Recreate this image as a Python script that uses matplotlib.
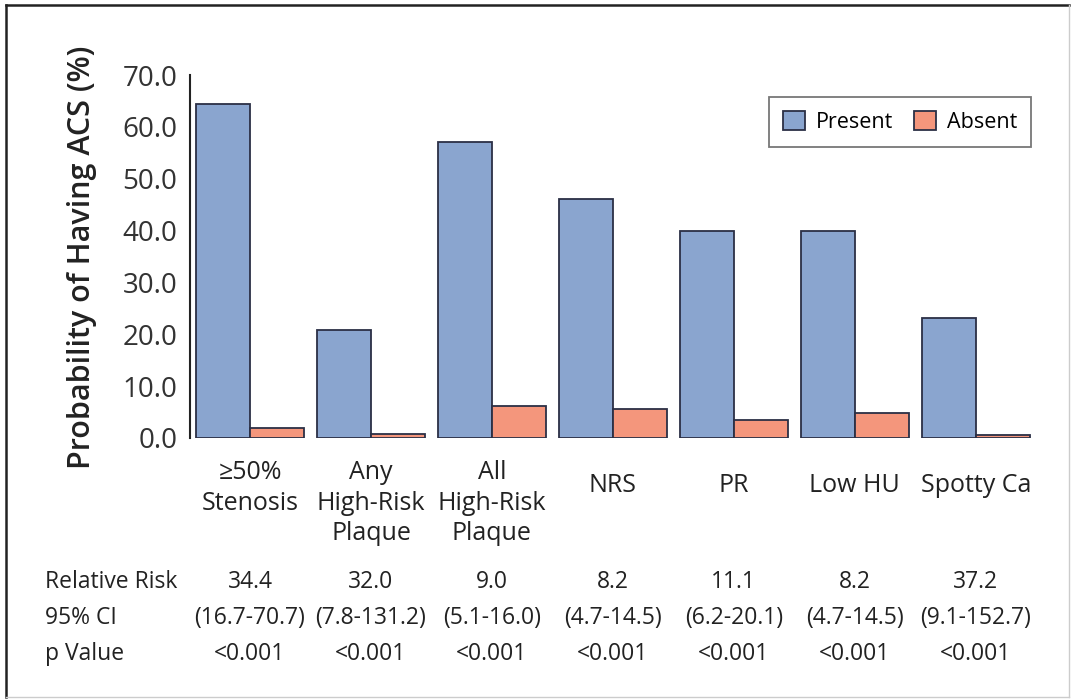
import matplotlib
matplotlib.use("Agg")
import matplotlib.pyplot as plt
import matplotlib.transforms as mtransforms
from matplotlib.lines import Line2D
import numpy as np

plt.rcParams['font.family'] = ['Open Sans', 'DejaVu Sans']

categories = ["\u226550%\nStenosis", "Any\nHigh-Risk\nPlaque", "All\nHigh-Risk\nPlaque",
              "NRS", "PR", "Low HU", "Spotty Ca"]
present = [64.5, 20.8, 57.1, 46.0, 39.9, 39.9, 23.1]
absent = [2.0, 0.8, 6.2, 5.6, 3.5, 4.8, 0.5]
yticks = [0, 10, 20, 30, 40, 50, 60, 70]
relative_risk = ["34.4", "32.0", "9.0", "8.2", "11.1", "8.2", "37.2"]
ci95 = ["(16.7-70.7)", "(7.8-131.2)", "(5.1-16.0)", "(4.7-14.5)", "(6.2-20.1)",
        "(4.7-14.5)", "(9.1-152.7)"]
p_values = ["<0.001"] * 7
row_labels = ["Relative Risk", "95% CI", "p Value"]

W, H = 1071, 699
fig = plt.figure(figsize=(W / 100, H / 100), dpi=100)
ax = fig.add_axes([190 / W, 1 - 438 / H, (1035 - 190) / W, (438 - 75) / H])

x = np.arange(len(categories))
bw = 0.446
c_present = "#8aa5cf"
c_absent = "#f4967c"
edge = "#2b2f45"
ax.bar(x - bw / 2, present, bw, color=c_present, edgecolor=edge, linewidth=1.3, label="Present")
ax.bar(x + bw / 2, absent, bw, color=c_absent, edgecolor=edge, linewidth=1.3, label="Absent")

ax.set_xlim(-0.496, 6.49)
ax.set_ylim(0, 70)
ax.set_yticks(yticks)
ax.set_yticklabels([f"{v:.1f}" for v in yticks], fontsize=20, color="#333333")
ax.tick_params(axis='y', length=0, pad=9)
ax.set_xticks([])
for s in ["top", "right", "bottom"]:
    ax.spines[s].set_visible(False)
ax.spines["left"].set_color("#222222")
ax.spines["left"].set_linewidth(1.5)

ax.set_ylabel("Probability of Having ACS (%)", fontsize=22, color="#222222", fontweight='semibold')
ax.yaxis.set_label_coords((97 - 190) / (1035 - 190), (438 - 257) / 363)

# category labels
trans = mtransforms.blended_transform_factory(ax.transData, fig.transFigure)
for i, lab in enumerate(categories):
    n = lab.count("\n") + 1
    if n == 1:
        ax.text(i, 1 - 486 / H, lab, transform=trans, ha='center', va='center',
                fontsize=18, color="#222222")
    else:
        ax.text(i, 1 - 460 / H, lab, transform=trans, ha='center', va='top',
                fontsize=18, color="#222222", linespacing=1.3)

# table
rows = [relative_risk, ci95, p_values]
ys = [582, 618, 654]
for r, (lab, vals) in enumerate(zip(row_labels, rows)):
    fig.text(45 / W, 1 - ys[r] / H, lab, ha='left', va='center', fontsize=16.5, color="#222222")
    for i, v in enumerate(vals):
        ax.text(i, 1 - ys[r] / H, v, transform=trans, ha='center', va='center',
                fontsize=16.5, color="#222222")

leg = ax.legend(loc='upper right', bbox_to_anchor=((1031 - 190) / (1035 - 190), (438 - 97) / 363),
                ncol=2, fontsize=15.5, frameon=True, fancybox=False, handlelength=1.0,
                handleheight=1.0, columnspacing=1.0, handletextpad=0.5, borderpad=0.65,
                borderaxespad=0)
leg.get_frame().set_edgecolor("#555555")
leg.get_frame().set_linewidth(1.3)

# outer frame
fig.add_artist(Line2D([6 / W, 6 / W], [1 - 5 / H, 1 - 697 / H], transform=fig.transFigure, color="#222222", lw=1.8))
fig.add_artist(Line2D([6 / W, 1069 / W], [1 - 5 / H, 1 - 5 / H], transform=fig.transFigure, color="#222222", lw=1.8))
fig.add_artist(Line2D([1069 / W, 1069 / W], [1 - 5 / H, 1 - 697 / H], transform=fig.transFigure, color="#cccccc", lw=1.0))
fig.add_artist(Line2D([6 / W, 1069 / W], [1 - 697 / H, 1 - 697 / H], transform=fig.transFigure, color="#cccccc", lw=1.0))

fig.savefig("out.png", dpi=100)
